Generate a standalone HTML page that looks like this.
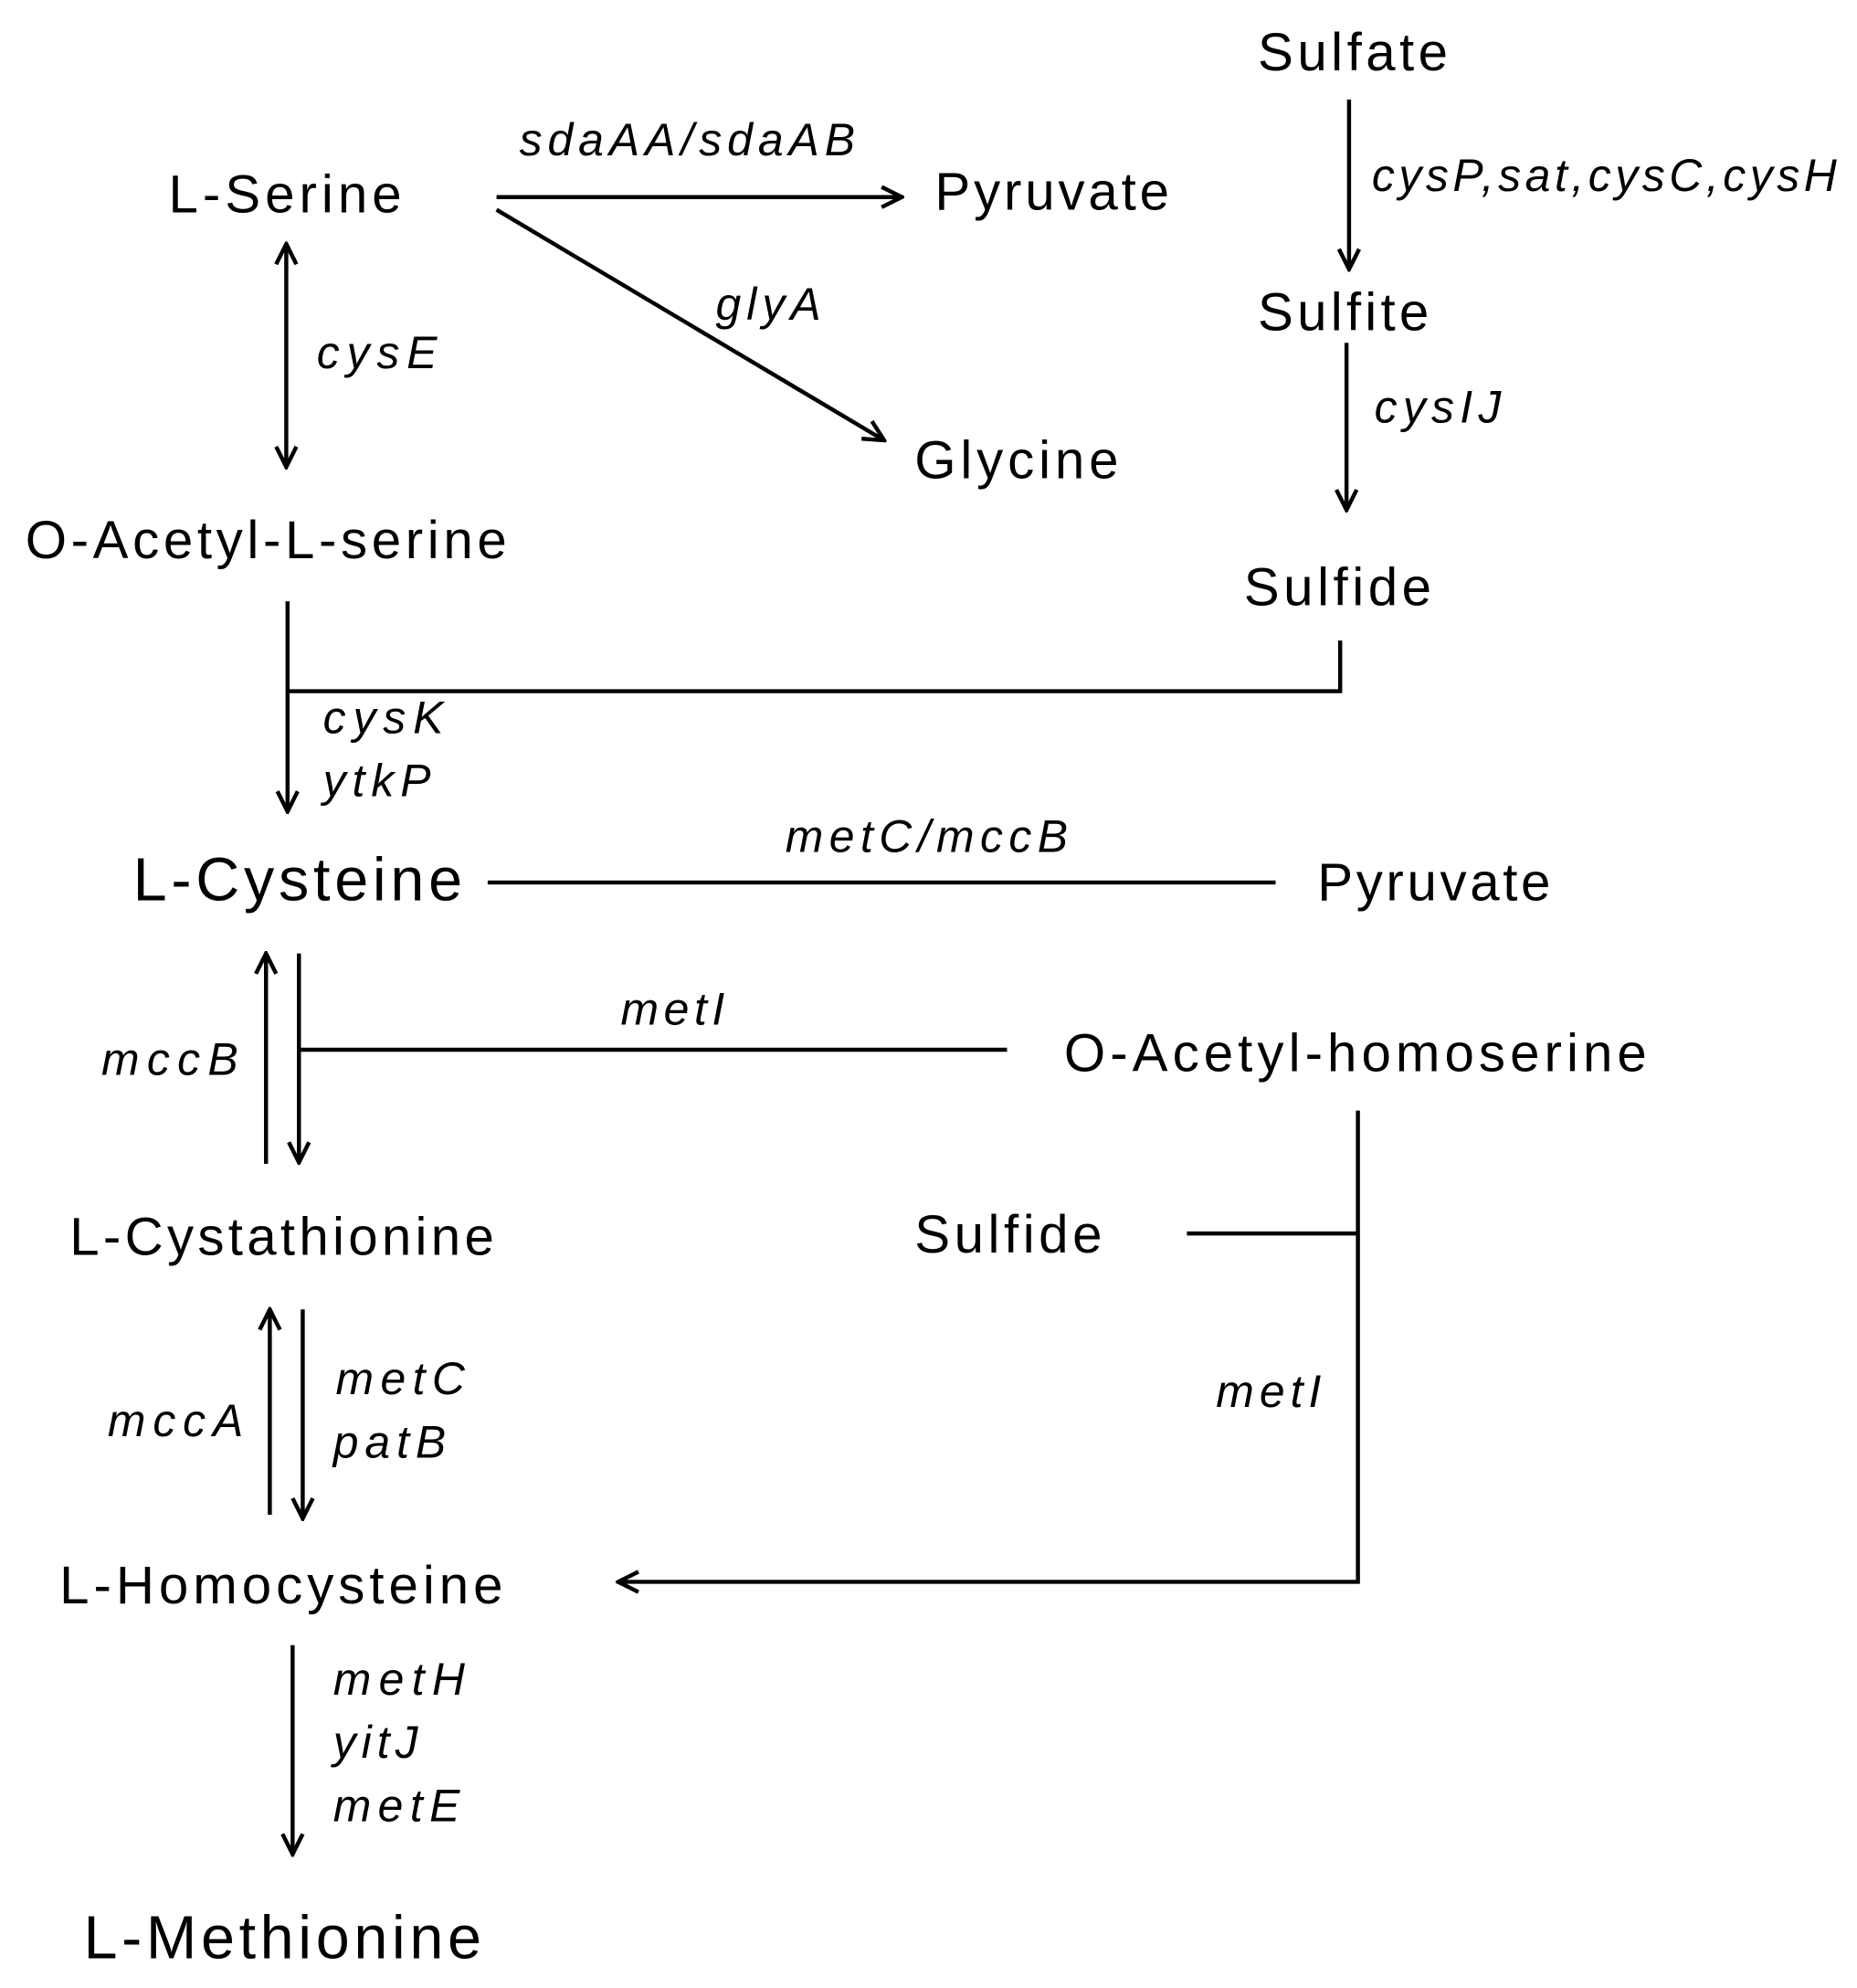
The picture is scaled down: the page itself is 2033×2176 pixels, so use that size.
<!DOCTYPE html>
<html><head><meta charset="utf-8"><style>html,body{margin:0;padding:0;background:#fff}svg{display:block}</style></head>
<body>
<svg width="2033" height="2176" viewBox="0 0 1466 1568" xmlns="http://www.w3.org/2000/svg">
<defs>
<marker id="a" viewBox="0 0 20 20" refX="18" refY="10" markerWidth="20" markerHeight="20" markerUnits="userSpaceOnUse" orient="auto-start-reverse">
<path d="M2 2 L18 10 L2 18" fill="none" stroke="#000" stroke-width="3.2"/>
</marker>
</defs>
<g stroke="#000" stroke-width="3.2" fill="none">
<line x1="1065" y1="78" x2="1065" y2="212" marker-end="url(#a)"/>
<line x1="392" y1="155" x2="712" y2="155" marker-end="url(#a)"/>
<line x1="392" y1="165" x2="698" y2="347" marker-end="url(#a)"/>
<line x1="226" y1="192" x2="226" y2="368" marker-start="url(#a)" marker-end="url(#a)"/>
<line x1="1063" y1="270" x2="1063" y2="402" marker-end="url(#a)"/>
<line x1="227" y1="474" x2="227" y2="640" marker-end="url(#a)"/>
<polyline points="227,545 1058,545 1058,505"/>
<line x1="385" y1="696" x2="1007" y2="696"/>
<line x1="210" y1="918" x2="210" y2="752" marker-end="url(#a)"/>
<line x1="236" y1="752" x2="236" y2="917" marker-end="url(#a)"/>
<line x1="236" y1="828" x2="795" y2="828"/>
<polyline points="1072,876 1072,1248 488,1248" marker-end="url(#a)"/>
<line x1="937" y1="973" x2="1072" y2="973"/>
<line x1="213" y1="1195" x2="213" y2="1033" marker-end="url(#a)"/>
<line x1="239" y1="1033" x2="239" y2="1198" marker-end="url(#a)"/>
<line x1="231" y1="1298" x2="231" y2="1463" marker-end="url(#a)"/>
</g>
<g font-family="Liberation Sans, sans-serif" fill="#000" font-size="42">
<text x="993" y="55" textLength="150">Sulfate</text>
<text x="133" y="167" textLength="184">L-Serine</text>
<text x="738" y="165" textLength="185">Pyruvate</text>
<text x="993" y="260" textLength="135">Sulfite</text>
<text x="722" y="377" textLength="161">Glycine</text>
<text x="20" y="440" textLength="380">O-Acetyl-L-serine</text>
<text x="982" y="477" textLength="148">Sulfide</text>
<text x="105" y="710" font-size="48" textLength="260">L-Cysteine</text>
<text x="1040" y="710" textLength="184">Pyruvate</text>
<text x="840" y="845" textLength="460">O-Acetyl-homoserine</text>
<text x="722" y="988" textLength="148">Sulfide</text>
<text x="55" y="990" textLength="335">L-Cystathionine</text>
<text x="47" y="1265" textLength="350">L-Homocysteine</text>
<text x="66" y="1545" font-size="48" textLength="314">L-Methionine</text>
</g>
<g font-family="Liberation Sans, sans-serif" font-style="italic" fill="#000" font-size="36">
<text x="410" y="122" textLength="265">sdaAA/sdaAB</text>
<text x="1083" y="150" textLength="367">cysP,sat,cysC,cysH</text>
<text x="565" y="252" textLength="83">glyA</text>
<text x="250" y="290" textLength="95">cysE</text>
<text x="1085" y="333" textLength="100">cysIJ</text>
<text x="255" y="578" textLength="95">cysK</text>
<text x="255" y="628" textLength="85">ytkP</text>
<text x="620" y="672" textLength="223">metC/mccB</text>
<text x="80" y="848" textLength="108">mccB</text>
<text x="490" y="808" textLength="82">metI</text>
<text x="960" y="1110" textLength="83">metI</text>
<text x="85" y="1133" textLength="107">mccA</text>
<text x="265" y="1100" textLength="102">metC</text>
<text x="263" y="1150" textLength="89">patB</text>
<text x="263" y="1337" textLength="104">metH</text>
<text x="263" y="1387" textLength="67">yitJ</text>
<text x="263" y="1437" textLength="100">metE</text>
</g>
</svg>
</body></html>
